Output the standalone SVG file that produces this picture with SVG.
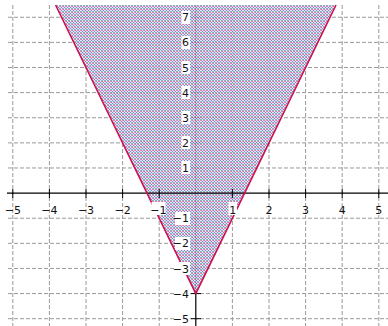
<svg xmlns="http://www.w3.org/2000/svg" width="388" height="326" viewBox="0 0 388 326">
<defs>
<pattern id="dots" width="3" height="3" patternUnits="userSpaceOnUse">
<rect width="3" height="3" fill="#e6e0f2"/>
<rect x="0" y="0" width="1" height="1" fill="#e0607f"/>
<rect x="1" y="1" width="1" height="1" fill="#5e6ee4"/>
<rect x="2" y="2" width="1" height="1" fill="#62b882"/>
<rect x="2" y="0" width="1" height="1" fill="#c08ad0"/>
<rect x="0" y="2" width="1" height="1" fill="#8a9ae8"/>
</pattern>
<style>
.grid{stroke:#9a9a9a;stroke-width:1;stroke-dasharray:4 2;fill:none}
.axis{stroke:#000;stroke-width:1.2;fill:none}
.tick{stroke:#000;stroke-width:1}
.bd{stroke:#d0104c;stroke-width:1.6;fill:none;stroke-linejoin:round}
text{font-family:"DejaVu Sans","Liberation Sans",sans-serif;font-size:11px;fill:#111}
.xl{text-anchor:middle}
.yl{text-anchor:end}
.bg{fill:#fff}
</style>
</defs>
<rect width="388" height="326" fill="#fff"/>
<g id="grid" class="grid">
<path d="M12.8 5V326M49.4 5V326M86 5V326M122.6 5V326M159.2 5V326M232.4 5V326M269 5V326M305.6 5V326M342.2 5V326M378.8 5V326"/>
<path d="M8 17.26H388M8 42.38H388M8 67.5H388M8 92.62H388M8 117.74H388M8 142.86H388M8 167.98H388M8 218.22H388M8 243.34H388M8 268.46H388M8 293.58H388M8 318.7H388"/>
</g>
<g id="y-axis">
<line class="axis" x1="195.8" y1="5" x2="195.8" y2="326"/>
<path class="tick" d="M191 17.26H201M191 42.38H201M191 67.5H201M191 92.62H201M191 117.74H201M191 142.86H201M191 167.98H201M191 218.22H201M191 243.34H201M191 268.46H201M191 293.58H201M191 318.7H201"/>
</g>
<g id="region">
<polygon points="55.6,5 336,5 195.8,293.6" fill="url(#dots)" fill-opacity="0.88"/>
</g>
<g id="x-axis">
<line class="axis" x1="7" y1="193.1" x2="388" y2="193.1"/>
<path class="tick" d="M12.8 189V198M49.4 189V198M86 189V198M122.6 189V198M159.2 189V198M232.4 189V198M269 189V198M305.6 189V198M342.2 189V198M378.8 189V198"/>
</g>
<g id="boundary">
<polyline class="bd" points="55.6,5 195.8,293.6 336,5"/>
</g>
<g id="x-labels">
<rect class="bg" x="151.5" y="202" width="14" height="13"/>
<rect class="bg" x="228.5" y="202" width="8.5" height="13"/>
<text class="xl" x="12.8" y="213.5">−5</text>
<text class="xl" x="49.4" y="213.5">−4</text>
<text class="xl" x="86" y="213.5">−3</text>
<text class="xl" x="122.6" y="213.5">−2</text>
<text class="xl" x="158.4" y="213.5">−1</text>
<text class="xl" x="232.8" y="213.5">1</text>
<text class="xl" x="269" y="213.5">2</text>
<text class="xl" x="305.6" y="213.5">3</text>
<text class="xl" x="342.2" y="213.5">4</text>
<text class="xl" x="378.8" y="213.5">5</text>
</g>
<g id="y-labels">
<rect class="bg" x="181.5" y="11" width="8.5" height="13"/>
<rect class="bg" x="181.5" y="36" width="8.5" height="13"/>
<rect class="bg" x="181.5" y="61" width="8.5" height="13"/>
<rect class="bg" x="181.5" y="86" width="8.5" height="13"/>
<rect class="bg" x="181.5" y="111" width="8.5" height="13"/>
<rect class="bg" x="181.5" y="136" width="8.5" height="13"/>
<rect class="bg" x="181.5" y="161" width="8.5" height="13"/>
<rect class="bg" x="175" y="212" width="15" height="13"/>
<rect class="bg" x="175" y="237" width="15" height="13"/>
<rect class="bg" x="175" y="262" width="15" height="13"/>
<rect class="bg" x="175" y="287" width="15" height="13"/>
<rect class="bg" x="175" y="312" width="15" height="13"/>
<text class="yl" x="189" y="21.3">7</text>
<text class="yl" x="189" y="46.4">6</text>
<text class="yl" x="189" y="71.5">5</text>
<text class="yl" x="189" y="96.6">4</text>
<text class="yl" x="189" y="121.7">3</text>
<text class="yl" x="189" y="146.9">2</text>
<text class="yl" x="189" y="172">1</text>
<text class="yl" x="189" y="222.2">−1</text>
<text class="yl" x="189" y="247.3">−2</text>
<text class="yl" x="189" y="272.5">−3</text>
<text class="yl" x="189" y="297.6">−4</text>
<text class="yl" x="189" y="322.7">−5</text>
</g>
</svg>
